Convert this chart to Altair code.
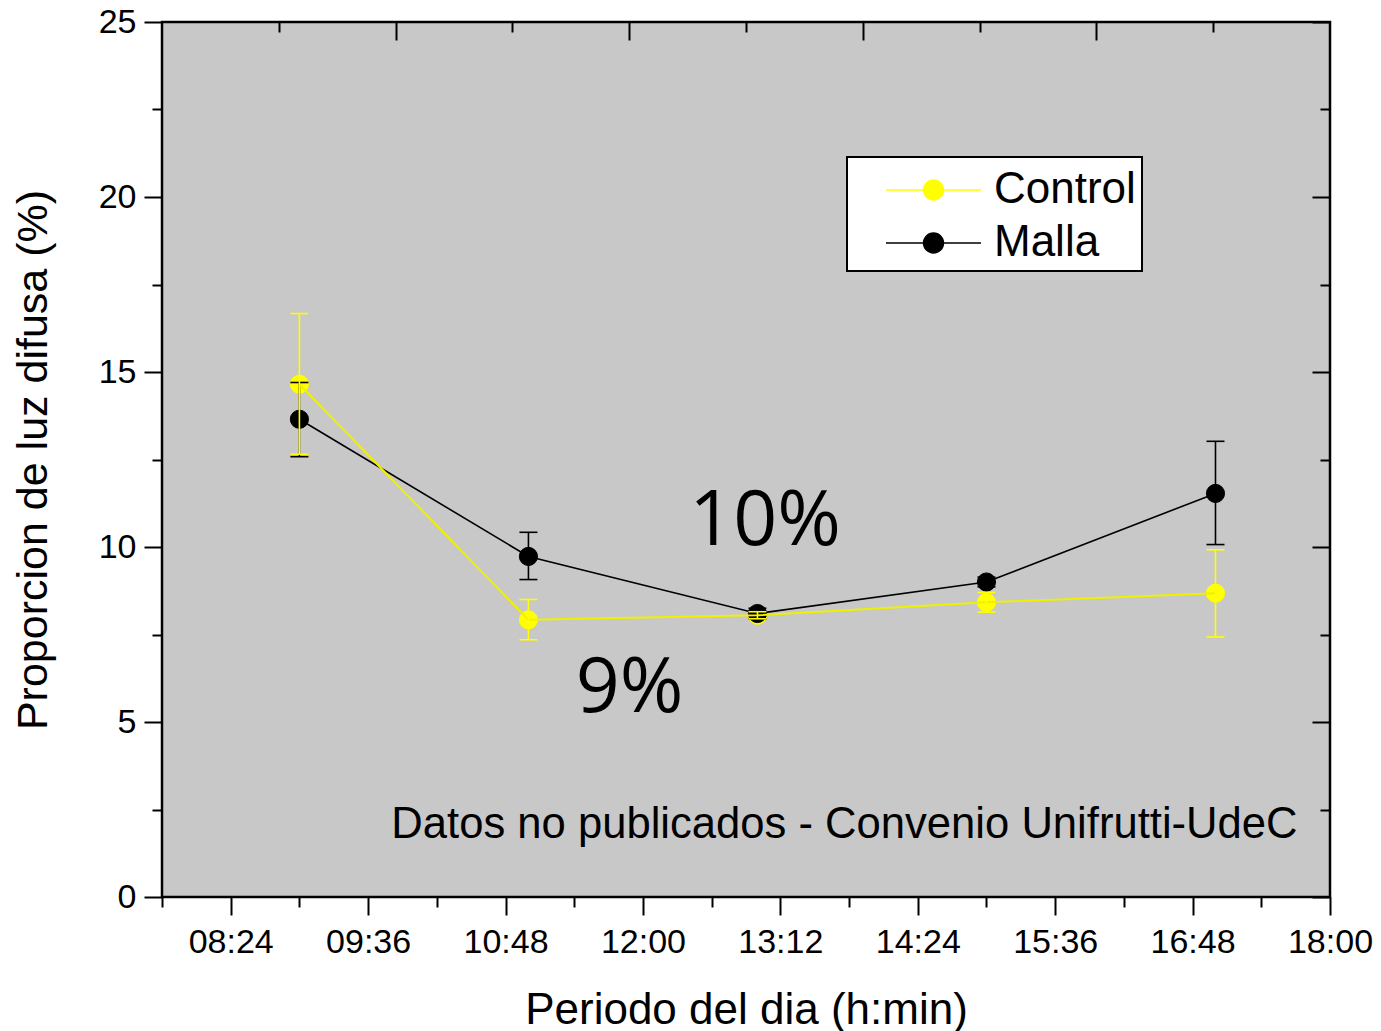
import altair as alt
import pandas as pd

# ---- data ----
horas = ["09:00", "11:00", "13:00", "15:00", "17:00"]
control = [14.65, 7.92, 8.05, 8.42, 8.68]
control_lo = [12.65, 7.35, 7.95, 8.14, 7.43]
control_hi = [16.67, 8.50, 8.15, 8.70, 9.92]
malla = [13.65, 9.73, 8.10, 9.00, 11.53]
malla_lo = [12.58, 9.07, 7.95, 8.86, 10.07]
malla_hi = [14.70, 10.42, 8.25, 9.14, 13.02]
series = ["Control", "Malla"]
colores = ["#ffff00", "#000000"]

x_major = [504, 576, 648, 720, 792, 864, 936, 1008, 1080]          # 08:24 ... 18:00 (min)
x_minor = [468, 540, 612, 684, 756, 828, 900, 972, 1044]
top_major = [590.4, 712.8, 835.2, 957.6]
top_minor = [529.2, 651.6, 774.0, 896.4, 1018.8]
y_major = [0, 5, 10, 15, 20, 25]
y_minor = [2.5, 7.5, 12.5, 17.5, 22.5]

anot_txt = ["10%", "9%"]
anot_t = [784, 713]
anot_v = [10.06, 5.29]
nota_txt = ["Datos no publicados - Convenio Unifrutti-UdeC"]
nota_t = [1063]
nota_v = [1.69]


def to_min(s):
    h, m = s.split(":")
    return int(h) * 60 + int(m)


rows = []
for serie, vals, lo, hi in [("Control", control, control_lo, control_hi),
                            ("Malla", malla, malla_lo, malla_hi)]:
    for h, v, l, u in zip(horas, vals, lo, hi):
        rows.append(dict(serie=serie, t=to_min(h), v=v, lo=l, hi=u))
df = pd.DataFrame(rows)
df_c = df[df.serie == "Control"]
df_m = df[df.serie == "Malla"]
df_anot = pd.DataFrame(dict(txt=anot_txt, t=anot_t, v=anot_v))
df_nota = pd.DataFrame(dict(txt=nota_txt, t=nota_t, v=nota_v))

FONT = "Liberation Sans"
x_scale = alt.Scale(domain=[468, 1080], nice=False, zero=False)
y_scale = alt.Scale(domain=[0, 25], nice=False, zero=False)
c_scale = alt.Scale(domain=series, range=colores)

label_expr = ("(floor(datum.value/60) < 10 ? '0' : '') + floor(datum.value/60) + ':' + "
              "(datum.value % 60 < 10 ? '0' : '') + (datum.value % 60)")

common = dict(domain=False, grid=False, tickColor="black", tickWidth=2,
              labelFlush=False, labelOverlap=False)

ax_bottom = alt.Axis(orient="bottom", values=x_major, labelExpr=label_expr,
                     title="Periodo del dia (h:min)", tickSize=18,
                     labelFont=FONT, labelFontSize=34, labelColor="black", labelPadding=10,
                     titleFont=FONT, titleFontSize=44, titleFontWeight="normal",
                     titleColor="black", titlePadding=29, **common)
ax_bottom_minor = alt.Axis(orient="bottom", values=x_minor, labels=False, title=None,
                           tickSize=10, **common)
ax_top = alt.Axis(orient="top", values=top_major, labels=False, title=None,
                  tickSize=18, offset=-18, **common)
ax_top_minor = alt.Axis(orient="top", values=top_minor, labels=False, title=None,
                        tickSize=10, offset=-10, **common)
ax_left = alt.Axis(orient="left", values=y_major, format="d",
                   title="Proporcion de luz difusa (%)", tickSize=18,
                   labelFont=FONT, labelFontSize=34, labelColor="black", labelPadding=8,
                   titleFont=FONT, titleFontSize=43, titleFontWeight="normal",
                   titleColor="black", titlePadding=43, **common)
ax_left_minor = alt.Axis(orient="left", values=y_minor, labels=False, title=None,
                         tickSize=10, **common)
ax_right = alt.Axis(orient="right", values=y_major, labels=False, title=None,
                    tickSize=18, offset=-18, **common)
ax_right_minor = alt.Axis(orient="right", values=y_minor, labels=False, title=None,
                          tickSize=10, offset=-10, **common)

# blank spacer title only reserves a little room at the top of the legend box
legend = alt.Legend(
    title="\u2003", titleFontSize=5, titlePadding=4, titleFont=FONT,
    orient="none", legendX=685, legendY=135,
    fillColor="white", strokeColor="black", padding=6,
    symbolType="M-0.326,0L0.464,0M0.884,0L1.674,0M0.464,0A0.21,0.21,0,1,1,0.884,0A0.21,0.21,0,1,1,0.464,0Z",
    symbolSize=9025, symbolStrokeWidth=1.5, clipHeight=36, rowPadding=9,
    labelFont=FONT, labelFontSize=44, labelColor="black", labelOffset=44,
)


def X(field, axis=None):
    return alt.X(field, type="quantitative", scale=x_scale, axis=axis)


def Y(field, axis=None):
    return alt.Y(field, type="quantitative", scale=y_scale, axis=axis)


def points(data, xa=None, ya=None):
    return alt.Chart(data).mark_point(filled=True, shape="circle", size=330,
                                      strokeWidth=1, opacity=1).encode(
        x=X("t", xa), y=Y("v", ya),
        fill=alt.Fill("serie:N", scale=c_scale, legend=legend),
        stroke=alt.Stroke("serie:N", scale=c_scale, legend=legend),
    )


def line(data, color, width, xa=None, ya=None):
    return alt.Chart(data).mark_line(color=color, strokeWidth=width).encode(
        x=X("t", xa), y=Y("v", ya))


def ebar(data, color, xa=None, ya=None):
    rule = alt.Chart(data).mark_rule(color=color, strokeWidth=1.6).encode(
        x=X("t", xa), y=Y("lo", ya), y2="hi")
    caps = alt.Chart(data).transform_fold(["lo", "hi"], as_=["k", "cap"]).mark_tick(
        color=color, orient="horizontal", size=18, thickness=1.6, opacity=1).encode(
        x=X("t"), y=Y("cap:Q"))
    return rule, caps


m_rule, m_caps = ebar(df_m, "#000000", ax_top_minor, ax_right_minor)
c_rule, c_caps = ebar(df_c, "#ffff00")

anot = alt.Chart(df_anot).mark_text(font="Open Sans", fontSize=77, color="black",
                                    align="center", baseline="alphabetic").encode(
    x=X("t"), y=Y("v"), text="txt:N")
nota = alt.Chart(df_nota).mark_text(font=FONT, fontSize=43.6, color="black",
                                    align="right", baseline="alphabetic").encode(
    x=X("t"), y=Y("v"), text="txt:N")

chart = alt.layer(
    points(df_c, ax_bottom, ax_left),
    line(df_m, "#000000", 1.6, ax_bottom_minor, ax_left_minor),
    points(df_m, ax_top, ax_right),
    m_rule, m_caps,
    line(df_c, "#f0f000", 2),
    c_rule, c_caps,
    anot, nota,
).resolve_axis(x="independent", y="independent").properties(
    width=1168, height=875,
    autosize=alt.AutoSizeParams(type="none"),
    padding={"left": 154, "top": 14, "right": 43, "bottom": 134},
    background="white",
).configure_view(
    fill="#c8c8c8", stroke="black", strokeWidth=2.5
).configure_legend(strokeWidth=2)

chart.save("out.html", embed_options={"renderer": "svg", "actions": False})
